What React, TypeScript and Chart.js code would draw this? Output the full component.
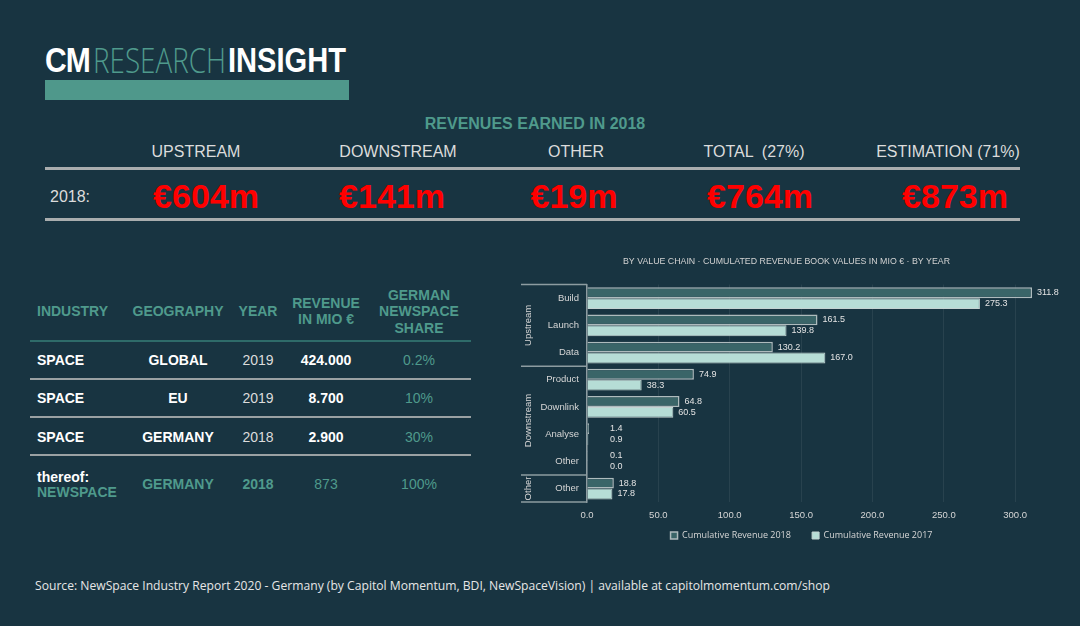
import React, { useEffect, useLayoutEffect, useRef } from 'react';
import { Chart, registerables } from 'chart.js';

Chart.register(...registerables);

// ---------- data ----------
const categories = ['Build', 'Launch', 'Data', 'Product', 'Downlink', 'Analyse', 'Other', 'Other'];
const groupLabels = ['Upstream', 'Downstream', 'Other'];
const groupSizes = [3, 4, 1];
const revenue2018 = [311.8, 161.5, 130.2, 74.9, 64.8, 1.4, 0.1, 18.8];
const revenue2017 = [275.3, 139.8, 167.0, 38.3, 60.5, 0.9, 0.0, 17.8];
const xTickValues = [0, 50, 100, 150, 200, 250, 300];
const seriesNames = ['Cumulative Revenue 2018', 'Cumulative Revenue 2017'];
const chartTitle = 'BY VALUE CHAIN · CUMULATED REVENUE BOOK VALUES IN MIO € · BY YEAR';

const kpiHeaders = ['UPSTREAM', 'DOWNSTREAM', 'OTHER', 'TOTAL  (27%)', 'ESTIMATION (71%)'];
const kpiValues = ['€604m', '€141m', '€19m', '€764m', '€873m'];

const tableHeaders = [['INDUSTRY'], ['GEOGRAPHY'], ['YEAR'], ['REVENUE', 'IN MIO €'], ['GERMAN', 'NEWSPACE', 'SHARE']];
const tableIndustry = ['SPACE', 'SPACE', 'SPACE'];
const tableGeography = ['GLOBAL', 'EU', 'GERMANY', 'GERMANY'];
const tableYear = ['2019', '2019', '2018', '2018'];
const tableRevenue = ['424.000', '8.700', '2.900', '873'];
const tableShare = ['0.2%', '10%', '30%', '100%'];

// ---------- style constants ----------
const BG = '#183441';
const TEAL = '#4f9a8c';
const LIGHT = '#dcdcdc';
const SANS = '"Liberation Sans", Arial, Helvetica, sans-serif';

function Fit({ w, style, children }: { w: number; style: React.CSSProperties; children: React.ReactNode }) {
  const ref = useRef<HTMLDivElement>(null);
  useLayoutEffect(() => {
    const el = ref.current;
    if (!el) return;
    el.style.transform = 'none';
    const actual = el.getBoundingClientRect().width;
    if (actual > 0) el.style.transform = `scaleX(${w / actual})`;
  }, [w]);
  return (
    <div ref={ref} style={{ position: 'absolute', whiteSpace: 'pre', transformOrigin: 'left center', ...style }}>
      {children}
    </div>
  );
}

function Txt({ x, y, size, color, bold, align = 'center', lh, family, children }: any) {
  const L = lh || size * 1.2;
  const base: React.CSSProperties = {
    position: 'absolute',
    top: y - L / 2,
    lineHeight: `${L}px`,
    fontSize: size,
    fontFamily: family || SANS,
    fontWeight: bold ? 700 : 400,
    color,
    whiteSpace: 'pre',
  };
  base.left = x;
  if (align === 'center') {
    base.transform = 'translateX(-50%)';
    base.textAlign = 'center';
  }
  return <div style={base}>{children}</div>;
}

const groupPlugin = {
  id: 'groupBrackets',
  afterLayout(chart: any) {
    // nudge the centred legend to the right, as in the reference
    if (chart.legend) {
      chart.legend.left += 15;
      chart.legend.right += 15;
    }
  },
  afterDraw(chart: any) {
    const { ctx, chartArea } = chart;
    const y = chart.scales.y;
    const lineLeft = y.left + 6;
    ctx.save();
    ctx.strokeStyle = '#8d9ca1';
    ctx.lineWidth = 1.5;
    let start = 0;
    const bounds: number[] = [y.getPixelForValue(-0.5)];
    groupSizes.forEach((n) => {
      start += n;
      bounds.push(y.getPixelForValue(start - 0.5));
    });
    bounds.forEach((b) => {
      ctx.beginPath();
      ctx.moveTo(lineLeft, b);
      ctx.lineTo(chartArea.left, b);
      ctx.stroke();
    });
    ctx.fillStyle = '#d6d6d6';
    ctx.font = `9.5px ${SANS}`;
    ctx.textAlign = 'center';
    ctx.textBaseline = 'middle';
    groupLabels.forEach((g, i) => {
      const cy = (bounds[i] + bounds[i + 1]) / 2;
      ctx.save();
      ctx.translate(lineLeft + 7, cy);
      ctx.rotate(-Math.PI / 2);
      ctx.fillText(g, 0, 0);
      ctx.restore();
    });
    ctx.restore();
  },
};

const valueLabelPlugin = {
  id: 'valueLabels',
  afterDatasetsDraw(chart: any) {
    const { ctx, chartArea } = chart;
    ctx.save();
    ctx.fillStyle = '#e4e4e4';
    ctx.font = `9px ${SANS}`;
    ctx.textAlign = 'left';
    ctx.textBaseline = 'middle';
    chart.data.datasets.forEach((ds: any, di: number) => {
      const meta = chart.getDatasetMeta(di);
      meta.data.forEach((bar: any, i: number) => {
        const v = ds.data[i] as number;
        const x = Math.max(bar.x + 5, chartArea.left + 23);
        ctx.fillText(v.toFixed(1), x, bar.y);
      });
    });
    ctx.restore();
  },
};

function BarChart() {
  const ref = useRef<HTMLCanvasElement>(null);
  useEffect(() => {
    if (!ref.current) return;
    const chart = new Chart(ref.current, {
      type: 'bar',
      data: {
        labels: categories,
        datasets: [
          {
            label: seriesNames[0],
            data: revenue2018,
            backgroundColor: '#3a6568',
            borderColor: '#aebbbd',
            borderWidth: 1.5,
            categoryPercentage: 0.8,
            barPercentage: 1,
          },
          {
            label: seriesNames[1],
            data: revenue2017,
            backgroundColor: '#b6ddd6',
            borderColor: '#c4d3d2',
            borderWidth: 1,
            categoryPercentage: 0.8,
            barPercentage: 1,
          },
        ],
      },
      options: {
        indexAxis: 'y',
        animation: false,
        responsive: false,
        maintainAspectRatio: false,
        events: [],
        layout: { padding: { left: 0, right: 12, top: 0, bottom: 0 } },
        scales: {
          x: {
            min: 0,
            max: 330,
            afterBuildTicks: (s: any) => {
              s.ticks = xTickValues.map((v) => ({ value: v }));
            },
            afterFit: (s: any) => {
              s.height = s.height - 8;
            },
            ticks: {
              callback: (v: any) => Number(v).toFixed(1),
              color: '#d6d6d6',
              font: { size: 9.5, family: SANS },
              padding: 8,
              maxRotation: 0,
            },
            grid: { color: 'rgba(255,255,255,0.07)', drawTicks: false, lineWidth: 1 },
            border: { display: false },
          },
          y: {
            ticks: { color: '#d6d6d6', font: { size: 9.5, family: SANS }, padding: 8 },
            grid: { display: false, drawTicks: false },
            border: { color: '#8d9ca1', width: 1.5 },
            afterFit: (s: any) => {
              s.width = 72;
            },
          },
        },
        plugins: {
          title: {
            display: true,
            text: chartTitle,
            color: '#d2d2d2',
            font: { size: 8.8, weight: 'normal', family: SANS },
            padding: { top: 6, bottom: 18 },
          },
          legend: {
            position: 'bottom',
            labels: {
              boxWidth: 7,
              boxHeight: 7,
              color: '#d6d6d6',
              font: { size: 9, family: '"Open Sans", sans-serif' },
              padding: 9.5,
              generateLabels: (c: any) => {
                const items = Chart.defaults.plugins.legend.labels.generateLabels(c);
                items.forEach((it: any, i: number) => {
                  if (i < items.length - 1) it.text = it.text + '     ';
                });
                return items;
              },
            },
          },
          tooltip: { enabled: false },
        },
      } as any,
      plugins: [groupPlugin, valueLabelPlugin],
    });
    return () => chart.destroy();
  }, []);
  return (
    <canvas
      ref={ref}
      width={555}
      height={300}
      style={{ position: 'absolute', left: 515, top: 250, width: 555, height: 300, display: 'block' }}
    />
  );
}

export default function App() {
  const kpiHeaderX = [196, 398, 576, 754, 948];
  const kpiValueX = [206, 392, 574, 760, 955];
  const colX = [37, 178, 258, 326, 419];
  const rowY = [360, 398, 437];
  const rowLines = [379, 417, 455];
  return (
    <div style={{ position: 'fixed', left: 0, top: 0, width: 1080, height: 626, background: BG, overflow: 'hidden' }}>
      {/* Logo */}
      <Fit w={45} style={{ left: 45, top: 42, fontSize: 35, lineHeight: '35px', fontFamily: SANS, fontWeight: 700, color: '#ffffff', letterSpacing: -1 }}>
        CM
      </Fit>
      <Fit w={133} style={{ left: 93, top: 42, fontSize: 35, lineHeight: '35px', fontFamily: '"Open Sans", sans-serif', fontWeight: 300, color: TEAL }}>
        RESEARCH
      </Fit>
      <Fit w={118} style={{ left: 228, top: 42, fontSize: 35, lineHeight: '35px', fontFamily: SANS, fontWeight: 700, color: '#ffffff' }}>
        INSIGHT
      </Fit>
      <div style={{ position: 'absolute', left: 45, top: 80, width: 304, height: 20, background: '#4f988b' }} />

      {/* KPI block */}
      <Txt x={535} y={124} size={16} color={TEAL} bold>
        REVENUES EARNED IN 2018
      </Txt>
      {kpiHeaders.map((h, i) => (
        <Txt key={h} x={kpiHeaderX[i]} y={152} size={16} color={LIGHT}>
          {h}
        </Txt>
      ))}
      <div style={{ position: 'absolute', left: 45, top: 167, width: 975, height: 3, background: '#a9adae' }} />
      <Txt x={50} y={197} size={16} color={LIGHT} align="left">
        2018:
      </Txt>
      {kpiValues.map((v, i) => (
        <Txt key={v} x={kpiValueX[i]} y={196} size={34} color="#ff0000" bold>
          {v}
        </Txt>
      ))}
      <div style={{ position: 'absolute', left: 45, top: 218, width: 975, height: 3, background: '#a9adae' }} />

      {/* Table */}
      {tableHeaders.map((lines, i) =>
        lines.map((t, j) => {
          const n = lines.length;
          const cy = 311.5 + (j - (n - 1) / 2) * 16.5;
          return (
            <Txt key={t} x={colX[i]} y={cy} size={14} color={TEAL} bold align={i === 0 ? 'left' : 'center'}>
              {t}
            </Txt>
          );
        })
      )}
      <div style={{ position: 'absolute', left: 30, top: 340, width: 441, height: 1.5, background: '#2e6b69' }} />
      {tableIndustry.map((t, r) => (
        <React.Fragment key={r}>
          <Txt x={colX[0]} y={rowY[r]} size={14} color="#ffffff" bold align="left">
            {t}
          </Txt>
          <Txt x={colX[1]} y={rowY[r]} size={14} color="#ffffff" bold>
            {tableGeography[r]}
          </Txt>
          <Txt x={colX[2]} y={rowY[r]} size={14} color={LIGHT}>
            {tableYear[r]}
          </Txt>
          <Txt x={colX[3]} y={rowY[r]} size={14} color="#ffffff" bold>
            {tableRevenue[r]}
          </Txt>
          <Txt x={colX[4]} y={rowY[r]} size={14} color={TEAL}>
            {tableShare[r]}
          </Txt>
        </React.Fragment>
      ))}
      {rowLines.map((y) => (
        <div key={y} style={{ position: 'absolute', left: 30, top: y - 0.75, width: 441, height: 1.5, background: '#9aa1a3' }} />
      ))}
      <Txt x={colX[0]} y={477} size={14} color="#ffffff" bold align="left">
        thereof:
      </Txt>
      <Txt x={colX[0]} y={492} size={14} color={TEAL} bold align="left">
        NEWSPACE
      </Txt>
      <Txt x={colX[1]} y={484} size={14} color={TEAL} bold>
        {tableGeography[3]}
      </Txt>
      <Txt x={colX[2]} y={484} size={14} color={TEAL} bold>
        {tableYear[3]}
      </Txt>
      <Txt x={colX[3]} y={484} size={14} color={TEAL}>
        {tableRevenue[3]}
      </Txt>
      <Txt x={colX[4]} y={484} size={14} color={TEAL}>
        {tableShare[3]}
      </Txt>

      <BarChart />

      {/* Source */}
      <Fit w={795} style={{ left: 35, top: 576, fontSize: 13, lineHeight: '18px', fontFamily: '"Open Sans", sans-serif', color: '#e6e6e6' }}>
        Source: NewSpace Industry Report 2020 - Germany (by Capitol Momentum, BDI, NewSpaceVision) | available at capitolmomentum.com/shop
      </Fit>
    </div>
  );
}
